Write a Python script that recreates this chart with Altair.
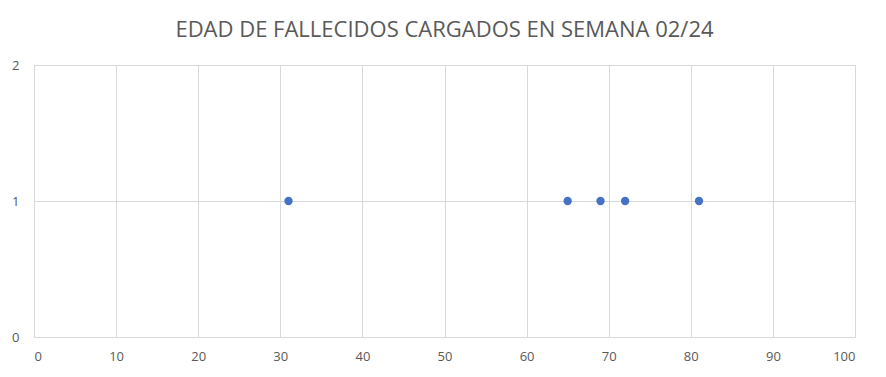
import altair as alt
import pandas as pd

edades = [31, 65, 69, 72, 81]
cantidad = [1, 1, 1, 1, 1]
x_ticks = [0, 10, 20, 30, 40, 50, 60, 70, 80, 90, 100]
y_ticks = [0, 1, 2]
titulo = "EDAD DE FALLECIDOS CARGADOS EN SEMANA 02/24"

df = pd.DataFrame({"edad": edades, "n": cantidad})

FONT = "Open Sans"
GREY = "#595959"
GRID = "#d9d9d9"

chart = alt.Chart(df).mark_circle(size=70, color="#4472C4", opacity=1).encode(
    x=alt.X("edad:Q", scale=alt.Scale(domain=[0, 100], nice=False),
            axis=alt.Axis(values=x_ticks, tickCount=11, title=None, grid=True,
                          gridColor=GRID, domain=False, ticks=False, labelPadding=13,
                          labelColor=GREY, labelFont=FONT, labelFontSize=13)),
    y=alt.Y("n:Q", scale=alt.Scale(domain=[0, 2], nice=False),
            axis=alt.Axis(values=y_ticks, tickCount=3, title=None, grid=True,
                          gridColor=GRID, domain=False, ticks=False, labelPadding=15,
                          labelExpr="format(datum.value, 'd')",
                          labelColor=GREY, labelFont=FONT, labelFontSize=13)),
).properties(
    width=821,
    height=272,
    title=alt.TitleParams(titulo, font=FONT, fontSize=22, fontWeight="normal",
                          color=GREY, anchor="middle", offset=17),
    autosize=alt.AutoSizeParams(type="none"),
    padding={"left": 26, "top": 57, "right": 22, "bottom": 30},
).configure_view(stroke=GRID, strokeWidth=1)

chart.save("out.html", embed_options={"renderer": "svg", "actions": False})
